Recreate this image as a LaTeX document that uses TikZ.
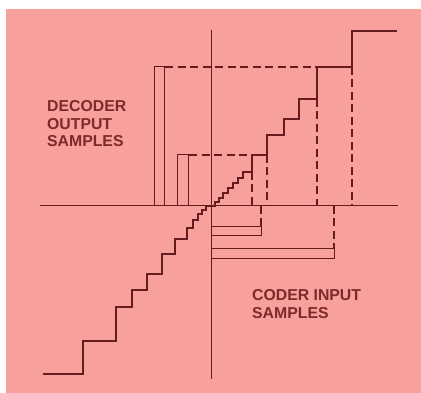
\documentclass[tikz,border=0pt]{standalone}
\usepackage{fontspec}
\setmainfont{Liberation Sans}
\begin{document}
\begin{tikzpicture}[x=1pt,y=-1pt,
  ink/.style={draw=lineink},
  stair/.style={ink,line width=2.1pt,line join=miter},
  axis/.style={ink,line width=1pt},
  bar/.style={ink,line width=1pt},
  dashline/.style={ink,line width=2pt,dash pattern=on 8pt off 4.5pt},
  label/.style={text=textink,font=\bfseries\fontsize{15.8}{17.5}\selectfont,align=left,inner sep=0pt,anchor=north west}]
\definecolor{bgpink}{RGB}{248,160,155}
\definecolor{lineink}{RGB}{100,28,30}
\definecolor{textink}{RGB}{125,42,44}
% canvas
\fill[white] (0,0) rectangle (421,393);
\fill[bgpink] (6,9) rectangle (421,393);
\useasboundingbox (0,0) rectangle (421,393);
% axes
\draw[axis] (40,206) -- (398,206);
\draw[axis] (211,30) -- (211,379);
% decoder output bars
\draw[bar] (154,206) |- (164,67) -- (164,206);
\draw[bar] (177,206) |- (188,155) -- (188,206);
% coder input bars
\draw[bar] (211,227) -| (261,236) -- (211,236);
\draw[bar] (211,249) -| (334,259) -- (211,259);
% dashed projections
\draw[dashline] (165,67) -- (317,67);
\draw[dashline] (189,155) -- (252,155);
\draw[dashline] (252,172) -- (252,206);
\draw[dashline] (267,155) -- (267,206);
\draw[dashline] (317,99) -- (317,206);
\draw[dashline] (352,67) -- (352,206);
\draw[dashline] (261,206) -- (261,227);
\draw[dashline] (334,206) -- (334,249);
% staircase
\draw[stair] (43,374) -- (83,374) -- (83,341) -- (116,341) -- (116,307)
  -- (132,307) -- (132,290) -- (147,290) -- (147,274) -- (162,274)
  -- (162,254) -- (175,254) -- (175,239) -- (187,239) -- (187,228)
  -- (193,228) -- (193,220) -- (198,220) -- (198,214) -- (202,214)
  -- (202,210) -- (206,210) -- (206,206) -- (215,206) -- (215,202)
  -- (219,202) -- (219,198) -- (223,198) -- (223,193) -- (228,193)
  -- (228,188) -- (233,188) -- (233,183) -- (238,183) -- (238,178)
  -- (243,178) -- (243,172) -- (252,172) -- (252,155) -- (267,155)
  -- (267,135) -- (284,135) -- (284,119) -- (299,119) -- (299,99)
  -- (317,99) -- (317,67) -- (352,67) -- (352,31) -- (397,31);
% labels
\node[label] (dec) at (47,100.5) {DECODER\\OUTPUT\\SAMPLES};
\node[label] (cod) at (252,289.5) {CODER INPUT\\SAMPLES};
\end{tikzpicture}
\end{document}
